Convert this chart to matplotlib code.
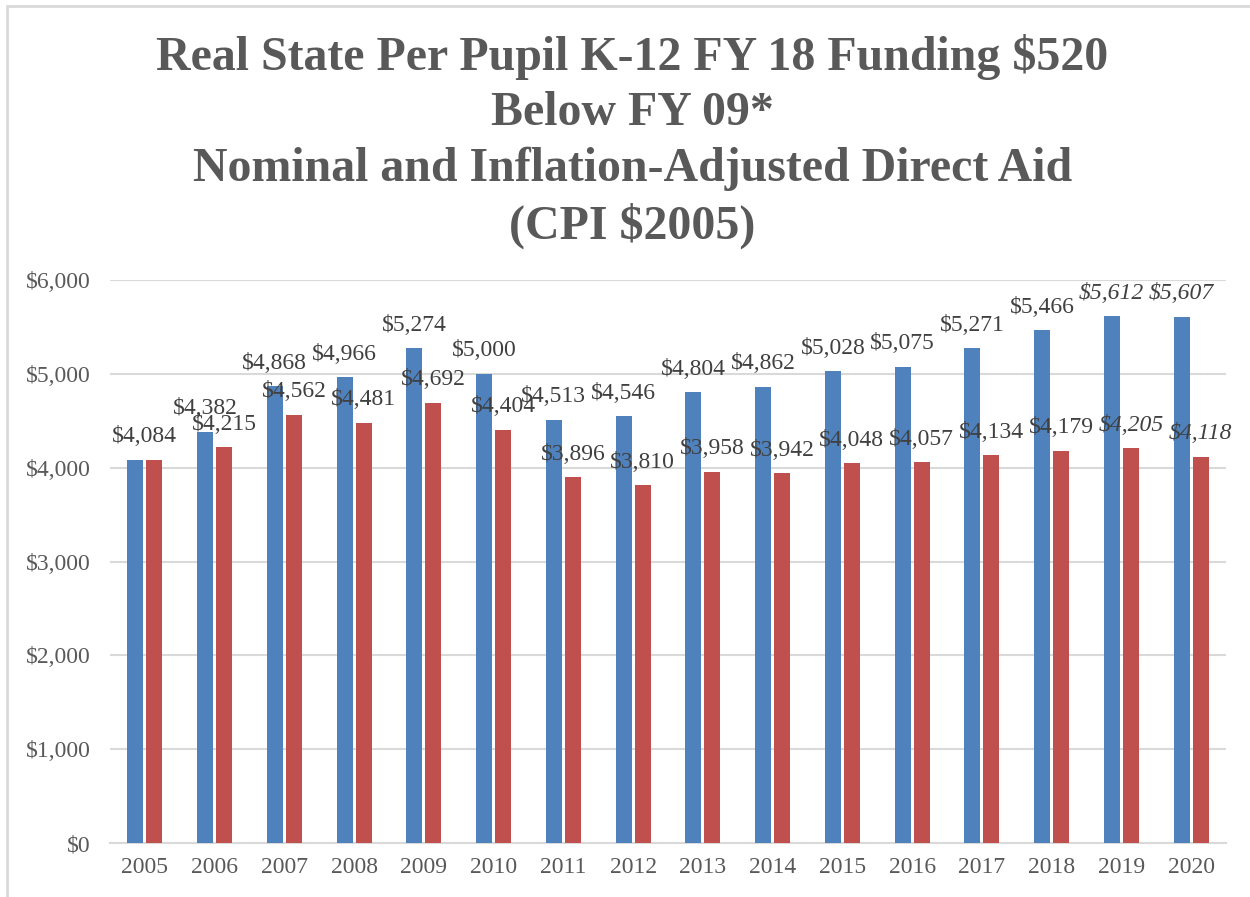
import numpy as np
import matplotlib.pyplot as plt
from matplotlib.patches import Rectangle

years = ['2005', '2006', '2007', '2008', '2009', '2010', '2011', '2012',
         '2013', '2014', '2015', '2016', '2017', '2018', '2019', '2020']
nominal = [4084, 4382, 4868, 4966, 5274, 5000, 4513, 4546,
           4804, 4862, 5028, 5075, 5271, 5466, 5612, 5607]
real = [4084, 4215, 4562, 4481, 4692, 4404, 3896, 3810,
        3958, 3942, 4048, 4057, 4134, 4179, 4205, 4118]
italic_years = ['2019', '2020']

title = ('Real State Per Pupil K-12 FY 18 Funding $520\nBelow FY 09*\n'
         'Nominal and Inflation-Adjusted Direct Aid\n(CPI $2005)')

blue = '#4F81BD'
red = '#C0504D'
grid = '#D9D9D9'
txt = '#595959'
lbl = '#404040'

plt.rcParams['font.family'] = ['Liberation Serif', 'DejaVu Serif']

fig = plt.figure(figsize=(12.5, 8.97), dpi=100)
ax = fig.add_axes([110 / 1250, 1 - 843 / 897, (1226 - 110) / 1250, (843 - 280) / 897])

x = np.arange(len(years))
w = 0.23
off = 0.137
ax.bar(x - off, nominal, w, color=blue, zorder=3)
ax.bar(x + off, real, w, color=red, zorder=3)

# data labels; 2005 has equal values so only one label shows
for i, yr in enumerate(years):
    style = 'italic' if yr in italic_years else 'normal'
    if nominal[i] == real[i]:
        ax.annotate(f'${nominal[i]:,}', (x[i], nominal[i]), xytext=(0, 9),
                    textcoords='offset points', ha='center', va='bottom',
                    fontsize=17, color=lbl, style=style)
        continue
    ax.annotate(f'${nominal[i]:,}', (x[i] - off, nominal[i]), xytext=(0, 9),
                textcoords='offset points', ha='center', va='bottom',
                fontsize=17, color=lbl, style=style)
    ax.annotate(f'${real[i]:,}', (x[i] + off, real[i]), xytext=(0, 9),
                textcoords='offset points', ha='center', va='bottom',
                fontsize=17, color=lbl, style=style)

ax.set_xlim(-0.5, len(years) - 0.5)
ax.set_ylim(0, 6000)
ax.set_yticks(range(0, 6001, 1000))
ax.set_yticklabels([f'${v:,}' for v in range(0, 6001, 1000)])
ax.set_xticks(x)
ax.set_xticklabels(years)
ax.tick_params(axis='both', length=0, labelsize=17, colors=txt)
ax.tick_params(axis='y', pad=14)
ax.tick_params(axis='x', pad=10)
ax.grid(axis='y', color=grid, linewidth=1.5, zorder=0)
for s in ['top', 'right', 'left']:
    ax.spines[s].set_visible(False)
ax.spines['bottom'].set_color(grid)
ax.spines['bottom'].set_linewidth(1.5)

fig.text(0.506, 1 - 34 / 897, title, ha='center', va='top', fontsize=34.5,
         fontweight='bold', color=txt, linespacing=1.33)

fig.patches.append(Rectangle((7 / 1250, -0.1), 1.2, 1 - 6 / 897 + 0.1,
                             transform=fig.transFigure, fill=False,
                             edgecolor='#D9D9D9', linewidth=2))

fig.savefig('out.png', dpi=100)
